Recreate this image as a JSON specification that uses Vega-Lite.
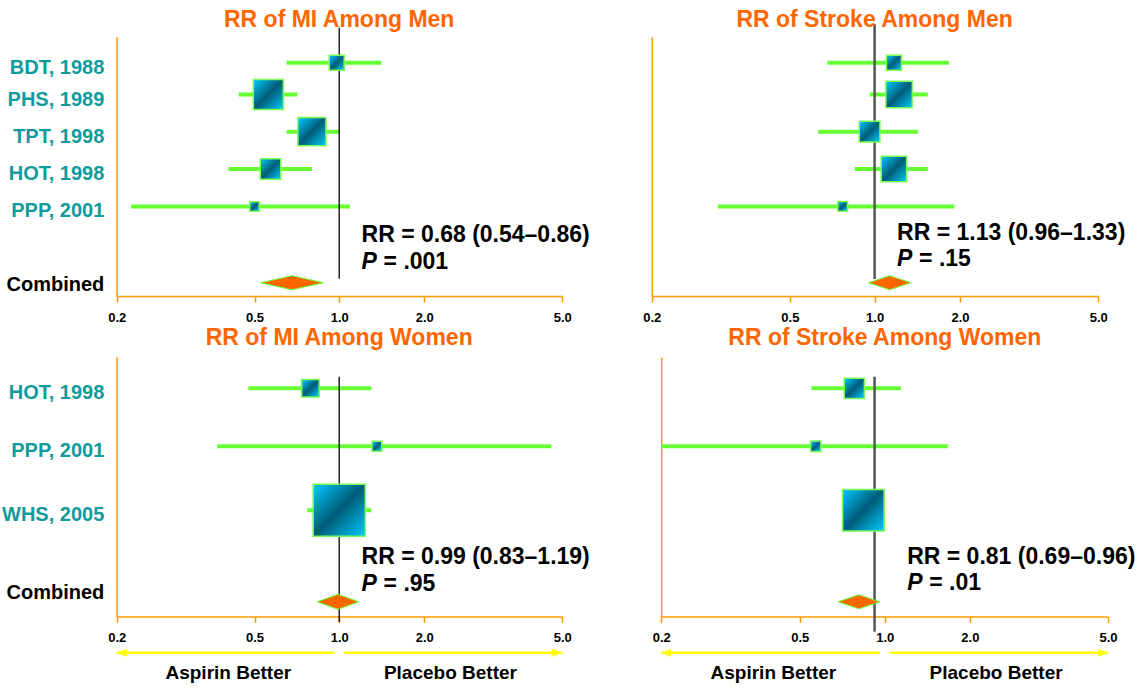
{
  "$schema": "https://vega.github.io/schema/vega-lite/v6.json",
  "width": 1138,
  "height": 688,
  "autosize": {"type": "none"},
  "padding": 0,
  "config": {"view": {"stroke": null}, "font": "Liberation Sans"},
  "datasets": {
    "studies": [
      {"panel": "TL", "study": "BDT, 1988", "rr": 0.98, "lo": 0.65, "hi": 1.41, "weight": 2.25, "row": 1},
      {"panel": "TL", "study": "PHS, 1989", "rr": 0.56, "lo": 0.45, "hi": 0.71, "weight": 9.0, "row": 1.87},
      {"panel": "TL", "study": "TPT, 1998", "rr": 0.80, "lo": 0.65, "hi": 1.00, "weight": 7.9, "row": 2.88},
      {"panel": "TL", "study": "HOT, 1998", "rr": 0.57, "lo": 0.42, "hi": 0.80, "weight": 4.2, "row": 3.9},
      {"panel": "TL", "study": "PPP, 2001", "rr": 0.50, "lo": 0.22, "hi": 1.09, "weight": 0.9, "row": 4.92},
      {"panel": "TR", "study": "BDT, 1988", "rr": 1.17, "lo": 0.68, "hi": 1.83, "weight": 2.25, "row": 1},
      {"panel": "TR", "study": "PHS, 1989", "rr": 1.22, "lo": 0.96, "hi": 1.54, "weight": 7.0, "row": 1.87},
      {"panel": "TR", "study": "TPT, 1998", "rr": 0.96, "lo": 0.63, "hi": 1.42, "weight": 4.3, "row": 2.88},
      {"panel": "TR", "study": "HOT, 1998", "rr": 1.17, "lo": 0.85, "hi": 1.54, "weight": 6.5, "row": 3.9},
      {"panel": "TR", "study": "PPP, 2001", "rr": 0.77, "lo": 0.31, "hi": 1.91, "weight": 0.95, "row": 4.92},
      {"panel": "BL", "study": "HOT, 1998", "rr": 0.79, "lo": 0.48, "hi": 1.30, "weight": 3.1, "row": 1},
      {"panel": "BL", "study": "PPP, 2001", "rr": 1.36, "lo": 0.39, "hi": 4.65, "weight": 0.96, "row": 1.95},
      {"panel": "BL", "study": "WHS, 2005", "rr": 1.00, "lo": 0.77, "hi": 1.30, "weight": 27.2, "row": 3},
      {"panel": "BR", "study": "HOT, 1998", "rr": 0.78, "lo": 0.55, "hi": 1.14, "weight": 4.1, "row": 1},
      {"panel": "BR", "study": "PPP, 2001", "rr": 0.57, "lo": 0.20, "hi": 1.67, "weight": 1.06, "row": 1.95},
      {"panel": "BR", "study": "WHS, 2005", "rr": 0.84, "lo": 0.72, "hi": 0.98, "weight": 17.3, "row": 3}
    ],
    "combined": [
      {"panel": "TL", "title": "RR of MI Among Men", "name": "Combined", "rr": 0.68, "lo": 0.54, "hi": 0.86, "row": 7, "summary": "RR = 0.68 (0.54–0.86)", "stat": "P", "pval": "= .001"},
      {"panel": "TR", "title": "RR of Stroke Among Men", "name": "Combined", "rr": 1.13, "lo": 0.96, "hi": 1.33, "row": 7, "summary": "RR = 1.13 (0.96–1.33)", "stat": "P", "pval": "= .15"},
      {"panel": "BL", "title": "RR of MI Among Women", "name": "Combined", "rr": 0.99, "lo": 0.83, "hi": 1.19, "row": 4.5, "summary": "RR = 0.99 (0.83–1.19)", "stat": "P", "pval": "= .95"},
      {"panel": "BR", "title": "RR of Stroke Among Women", "name": "Combined", "rr": 0.81, "lo": 0.69, "hi": 0.96, "row": 4.5, "summary": "RR = 0.81 (0.69–0.96)", "stat": "P", "pval": "= .01"}
    ],
    "refs": [
      {"panel": "TL", "ref": 1.0},
      {"panel": "TR", "ref": 1.0},
      {"panel": "BL", "ref": 1.0},
      {"panel": "BR", "ref": 0.92}
    ],
    "sides": [
      {"side": "Aspirin Better", "from": 0.2, "to": 0.96, "at": 0.42, "head": "left"},
      {"side": "Placebo Better", "from": 1.04, "to": 5.0, "at": 2.38, "head": "right"}
    ]
  },
  "resolve": {"scale": {"x": "independent", "y": "independent"}, "axis": {"x": "independent", "y": "independent"}},
  "layer": [
    {
      "layer": [
        {"data": {"name": "studies"}, "transform": [{"filter": "datum.panel == 'TL'"}],
         "mark": {"type": "rule", "color": "#66FF33", "strokeWidth": 4},
         "encoding": {"x": {"field": "lo", "type": "quantitative", "scale": {"type": "log", "domain": [0.2, 0.5, 1, 2, 5], "range": [116.7, 254.5, 339.2, 424.2, 562.3], "nice": false},
                            "axis": {"orient": "bottom", "offset": -392, "values": [0.2, 0.5, 1, 2, 5], "format": ".1f", "title": null, "grid": false, "domainColor": "#FF9900", "domainWidth": 1.5, "tickColor": "#FF9900", "tickWidth": 1.5, "tickSize": 6, "labelColor": "black", "labelFont": "Liberation Sans", "labelFontSize": 13, "labelFontWeight": "bold", "labelPadding": 9, "labelFlush": false, "labelOverlap": false, "labelBound": false}},
                      "x2": {"field": "hi"},
                      "y": {"field": "row", "type": "quantitative", "scale": {"domain": [0.291, 7.362], "range": [36.7, 296], "nice": false, "zero": false},
                            "axis": {"orient": "left", "offset": -116.7, "title": null, "grid": false, "ticks": false, "labels": false, "domainColor": "#FF9900", "domainWidth": 1.5}}}},
        {"data": {"name": "refs"}, "transform": [{"filter": "datum.panel == 'TL'"}],
         "mark": {"type": "rule", "color": "black", "strokeWidth": 1.3},
         "encoding": {"x": {"field": "ref", "type": "quantitative"},
                      "y": {"datum": 0.05, "type": "quantitative"}, "y2": {"datum": 6.89}}},
        {"data": {"name": "studies"}, "transform": [{"filter": "datum.panel == 'TL'"}],
         "mark": {"type": "point", "shape": "square", "filled": true, "opacity": 1, "fill": {"gradient": "linear", "x1": 0, "y1": 0, "x2": 1, "y2": 1, "stops": [{"offset": 0, "color": "#00CCFF"}, {"offset": 0.5, "color": "#005C78"}, {"offset": 1, "color": "#00CCFF"}]}, "stroke": "#77FF55", "strokeWidth": 1.5},
         "encoding": {"x": {"field": "rr", "type": "quantitative"},
                      "y": {"field": "row", "type": "quantitative"},
                      "size": {"field": "weight", "type": "quantitative", "scale": {"domain": [0, 30], "range": [0, 3000]}, "legend": null}}},
        {"data": {"name": "combined"}, "transform": [{"filter": "datum.panel == 'TL'"}],
         "mark": {"type": "point", "shape": "M-1,0L0,-0.22L1,0L0,0.22Z", "size": 3969, "filled": true, "opacity": 1, "fill": "#FF6600", "stroke": "#66FF33", "strokeWidth": 1},
         "encoding": {"x": {"field": "rr", "type": "quantitative"},
                      "y": {"field": "row", "type": "quantitative"}}},
        {"data": {"name": "studies"}, "transform": [{"filter": "datum.panel == 'TL'"}],
         "mark": {"type": "text", "align": "right", "baseline": "middle", "dx": -12.4, "dy": 5, "fontSize": 20, "fontWeight": "bold", "color": "#0F9B9B"},
         "encoding": {"x": {"datum": 0.2, "type": "quantitative"}, "y": {"field": "row", "type": "quantitative"}, "text": {"field": "study"}}},
        {"data": {"name": "combined"}, "transform": [{"filter": "datum.panel == 'TL'"}],
         "mark": {"type": "text", "align": "right", "baseline": "middle", "dx": -12.4, "dy": 2, "fontSize": 20, "fontWeight": "bold", "color": "black"},
         "encoding": {"x": {"datum": 0.2, "type": "quantitative"}, "y": {"field": "row", "type": "quantitative"}, "text": {"field": "name"}}},
        {"data": {"name": "combined"}, "transform": [{"filter": "datum.panel == 'TL'"}],
         "mark": {"type": "text", "align": "left", "baseline": "middle", "fontSize": 23, "fontWeight": "bold", "color": "black"},
         "encoding": {"x": {"datum": 1.2, "type": "quantitative"}, "y": {"datum": 5.70, "type": "quantitative"}, "text": {"field": "summary"}}},
        {"data": {"name": "combined"}, "transform": [{"filter": "datum.panel == 'TL'"}],
         "mark": {"type": "text", "align": "left", "baseline": "middle", "fontSize": 23, "fontWeight": "bold", "fontStyle": "italic", "color": "black"},
         "encoding": {"x": {"datum": 1.2, "type": "quantitative"}, "y": {"datum": 6.43, "type": "quantitative"}, "text": {"field": "stat"}}},
        {"data": {"name": "combined"}, "transform": [{"filter": "datum.panel == 'TL'"}],
         "mark": {"type": "text", "align": "left", "baseline": "middle", "dx": 22, "fontSize": 23, "fontWeight": "bold", "color": "black"},
         "encoding": {"x": {"datum": 1.2, "type": "quantitative"}, "y": {"datum": 6.43, "type": "quantitative"}, "text": {"field": "pval"}}},
        {"data": {"name": "combined"}, "transform": [{"filter": "datum.panel == 'TL'"}],
         "mark": {"type": "text", "align": "center", "baseline": "middle", "fontSize": 23, "fontWeight": "bold", "color": "#FF6600"},
         "encoding": {"x": {"datum": 1, "type": "quantitative"}, "y": {"datum": -0.164, "type": "quantitative"}, "text": {"field": "title"}}}
      ]
    },
    {
      "layer": [
        {"data": {"name": "studies"}, "transform": [{"filter": "datum.panel == 'TR'"}],
         "mark": {"type": "rule", "color": "#66FF33", "strokeWidth": 4},
         "encoding": {"x": {"field": "lo", "type": "quantitative", "scale": {"type": "log", "domain": [0.2, 0.5, 1, 2, 5], "range": [651.8, 789.9, 874.6, 960, 1098.2], "nice": false},
                            "axis": {"orient": "bottom", "offset": -392, "values": [0.2, 0.5, 1, 2, 5], "format": ".1f", "title": null, "grid": false, "domainColor": "#FF9900", "domainWidth": 1.5, "tickColor": "#FF9900", "tickWidth": 1.5, "tickSize": 6, "labelColor": "black", "labelFont": "Liberation Sans", "labelFontSize": 13, "labelFontWeight": "bold", "labelPadding": 9, "labelFlush": false, "labelOverlap": false, "labelBound": false}},
                      "x2": {"field": "hi"},
                      "y": {"field": "row", "type": "quantitative", "scale": {"domain": [0.291, 7.362], "range": [36.7, 296], "nice": false, "zero": false},
                            "axis": {"orient": "left", "offset": -651.8, "title": null, "grid": false, "ticks": false, "labels": false, "domainColor": "#FF9900", "domainWidth": 1.5}}}},
        {"data": {"name": "refs"}, "transform": [{"filter": "datum.panel == 'TR'"}],
         "mark": {"type": "rule", "color": "#555555", "strokeWidth": 2.5},
         "encoding": {"x": {"field": "ref", "type": "quantitative"},
                      "y": {"datum": -0.055, "type": "quantitative"}, "y2": {"datum": 6.9}}},
        {"data": {"name": "studies"}, "transform": [{"filter": "datum.panel == 'TR'"}],
         "mark": {"type": "point", "shape": "square", "filled": true, "opacity": 1, "fill": {"gradient": "linear", "x1": 0, "y1": 0, "x2": 1, "y2": 1, "stops": [{"offset": 0, "color": "#00CCFF"}, {"offset": 0.5, "color": "#005C78"}, {"offset": 1, "color": "#00CCFF"}]}, "stroke": "#77FF55", "strokeWidth": 1.5},
         "encoding": {"x": {"field": "rr", "type": "quantitative"},
                      "y": {"field": "row", "type": "quantitative"},
                      "size": {"field": "weight", "type": "quantitative", "scale": {"domain": [0, 30], "range": [0, 3000]}, "legend": null}}},
        {"data": {"name": "combined"}, "transform": [{"filter": "datum.panel == 'TR'"}],
         "mark": {"type": "point", "shape": "M-1,0L0,-0.33L1,0L0,0.33Z", "size": 1806, "filled": true, "opacity": 1, "fill": "#FF6600", "stroke": "#66FF33", "strokeWidth": 1},
         "encoding": {"x": {"field": "rr", "type": "quantitative"},
                      "y": {"field": "row", "type": "quantitative"}}},
        {"data": {"name": "combined"}, "transform": [{"filter": "datum.panel == 'TR'"}],
         "mark": {"type": "text", "align": "left", "baseline": "middle", "fontSize": 23, "fontWeight": "bold", "color": "black"},
         "encoding": {"x": {"datum": 1.2, "type": "quantitative"}, "y": {"datum": 5.64, "type": "quantitative"}, "text": {"field": "summary"}}},
        {"data": {"name": "combined"}, "transform": [{"filter": "datum.panel == 'TR'"}],
         "mark": {"type": "text", "align": "left", "baseline": "middle", "fontSize": 23, "fontWeight": "bold", "fontStyle": "italic", "color": "black"},
         "encoding": {"x": {"datum": 1.2, "type": "quantitative"}, "y": {"datum": 6.36, "type": "quantitative"}, "text": {"field": "stat"}}},
        {"data": {"name": "combined"}, "transform": [{"filter": "datum.panel == 'TR'"}],
         "mark": {"type": "text", "align": "left", "baseline": "middle", "dx": 22, "fontSize": 23, "fontWeight": "bold", "color": "black"},
         "encoding": {"x": {"datum": 1.2, "type": "quantitative"}, "y": {"datum": 6.36, "type": "quantitative"}, "text": {"field": "pval"}}},
        {"data": {"name": "combined"}, "transform": [{"filter": "datum.panel == 'TR'"}],
         "mark": {"type": "text", "align": "center", "baseline": "middle", "fontSize": 23, "fontWeight": "bold", "color": "#FF6600"},
         "encoding": {"x": {"datum": 1, "type": "quantitative"}, "y": {"datum": -0.164, "type": "quantitative"}, "text": {"field": "title"}}}
      ]
    },
    {
      "layer": [
        {"data": {"name": "studies"}, "transform": [{"filter": "datum.panel == 'BL'"}],
         "mark": {"type": "rule", "color": "#66FF33", "strokeWidth": 4},
         "encoding": {"x": {"field": "lo", "type": "quantitative", "scale": {"type": "log", "domain": [0.2, 0.5, 1, 2, 5], "range": [116.7, 254.5, 339.2, 424.2, 562.3], "nice": false},
                            "axis": {"orient": "bottom", "offset": -71.5, "values": [0.2, 0.5, 1, 2, 5], "format": ".1f", "title": null, "grid": false, "domainColor": "#FF9900", "domainWidth": 1.5, "tickColor": "#FF9900", "tickWidth": 1.5, "tickSize": 6, "labelColor": "black", "labelFont": "Liberation Sans", "labelFontSize": 13, "labelFontWeight": "bold", "labelPadding": 9, "labelFlush": false, "labelOverlap": false, "labelBound": false}},
                      "x2": {"field": "hi"},
                      "y": {"field": "row", "type": "quantitative", "scale": {"domain": [0.487, 4.741], "range": [357, 616.5], "nice": false, "zero": false},
                            "axis": {"orient": "left", "offset": -116.7, "title": null, "grid": false, "ticks": false, "labels": false, "domainColor": "#FF9900", "domainWidth": 1.5}}}},
        {"data": {"name": "refs"}, "transform": [{"filter": "datum.panel == 'BL'"}],
         "mark": {"type": "rule", "color": "black", "strokeWidth": 1.3},
         "encoding": {"x": {"field": "ref", "type": "quantitative"},
                      "y": {"datum": 0.81, "type": "quantitative"}, "y2": {"datum": 4.83}}},
        {"data": {"name": "studies"}, "transform": [{"filter": "datum.panel == 'BL'"}],
         "mark": {"type": "point", "shape": "square", "filled": true, "opacity": 1, "fill": {"gradient": "linear", "x1": 0, "y1": 0, "x2": 1, "y2": 1, "stops": [{"offset": 0, "color": "#00CCFF"}, {"offset": 0.5, "color": "#005C78"}, {"offset": 1, "color": "#00CCFF"}]}, "stroke": "#77FF55", "strokeWidth": 1.5},
         "encoding": {"x": {"field": "rr", "type": "quantitative"},
                      "y": {"field": "row", "type": "quantitative"},
                      "size": {"field": "weight", "type": "quantitative", "scale": {"domain": [0, 30], "range": [0, 3000]}, "legend": null}}},
        {"data": {"name": "combined"}, "transform": [{"filter": "datum.panel == 'BL'"}],
         "mark": {"type": "point", "shape": "M-1,0L0,-0.36L1,0L0,0.36Z", "size": 1722, "filled": true, "opacity": 1, "fill": "#FF6600", "stroke": "#66FF33", "strokeWidth": 1},
         "encoding": {"x": {"field": "rr", "type": "quantitative"},
                      "y": {"field": "row", "type": "quantitative"}}},
        {"data": {"name": "studies"}, "transform": [{"filter": "datum.panel == 'BL'"}],
         "mark": {"type": "text", "align": "right", "baseline": "middle", "dx": -12.4, "dy": 5, "fontSize": 20, "fontWeight": "bold", "color": "#0F9B9B"},
         "encoding": {"x": {"datum": 0.2, "type": "quantitative"}, "y": {"field": "row", "type": "quantitative"}, "text": {"field": "study"}}},
        {"data": {"name": "combined"}, "transform": [{"filter": "datum.panel == 'BL'"}],
         "mark": {"type": "text", "align": "right", "baseline": "middle", "dx": -12.4, "dy": -9, "fontSize": 20, "fontWeight": "bold", "color": "black"},
         "encoding": {"x": {"datum": 0.2, "type": "quantitative"}, "y": {"field": "row", "type": "quantitative"}, "text": {"field": "name"}}},
        {"data": {"name": "combined"}, "transform": [{"filter": "datum.panel == 'BL'"}],
         "mark": {"type": "text", "align": "left", "baseline": "middle", "fontSize": 23, "fontWeight": "bold", "color": "black"},
         "encoding": {"x": {"datum": 1.2, "type": "quantitative"}, "y": {"datum": 3.76, "type": "quantitative"}, "text": {"field": "summary"}}},
        {"data": {"name": "combined"}, "transform": [{"filter": "datum.panel == 'BL'"}],
         "mark": {"type": "text", "align": "left", "baseline": "middle", "fontSize": 23, "fontWeight": "bold", "fontStyle": "italic", "color": "black"},
         "encoding": {"x": {"datum": 1.2, "type": "quantitative"}, "y": {"datum": 4.21, "type": "quantitative"}, "text": {"field": "stat"}}},
        {"data": {"name": "combined"}, "transform": [{"filter": "datum.panel == 'BL'"}],
         "mark": {"type": "text", "align": "left", "baseline": "middle", "dx": 22, "fontSize": 23, "fontWeight": "bold", "color": "black"},
         "encoding": {"x": {"datum": 1.2, "type": "quantitative"}, "y": {"datum": 4.21, "type": "quantitative"}, "text": {"field": "pval"}}},
        {"data": {"name": "combined"}, "transform": [{"filter": "datum.panel == 'BL'"}],
         "mark": {"type": "text", "align": "center", "baseline": "middle", "fontSize": 23, "fontWeight": "bold", "color": "#FF6600"},
         "encoding": {"x": {"datum": 1, "type": "quantitative"}, "y": {"datum": 0.18, "type": "quantitative"}, "text": {"field": "title"}}},
        {"data": {"name": "sides"},
         "mark": {"type": "rule", "color": "#FFFF00", "strokeWidth": 2.5},
         "encoding": {"x": {"field": "from", "type": "quantitative"}, "x2": {"field": "to"}, "y": {"datum": 5.335, "type": "quantitative"}}},
        {"data": {"name": "sides"}, "transform": [{"filter": "datum.head == 'left'"}],
         "mark": {"type": "point", "shape": "M0,0L2,-0.8L2,0.8Z", "size": 100, "filled": true, "opacity": 1, "color": "#FFFF00"},
         "encoding": {"x": {"field": "from", "type": "quantitative"}, "y": {"datum": 5.335, "type": "quantitative"}}},
        {"data": {"name": "sides"}, "transform": [{"filter": "datum.head == 'right'"}],
         "mark": {"type": "point", "shape": "M0,0L-2,-0.8L-2,0.8Z", "size": 100, "filled": true, "opacity": 1, "color": "#FFFF00"},
         "encoding": {"x": {"field": "to", "type": "quantitative"}, "y": {"datum": 5.335, "type": "quantitative"}}},
        {"data": {"name": "sides"},
         "mark": {"type": "text", "align": "center", "baseline": "middle", "fontSize": 19, "fontWeight": "bold", "color": "black"},
         "encoding": {"x": {"field": "at", "type": "quantitative"}, "y": {"datum": 5.66, "type": "quantitative"}, "text": {"field": "side"}}}
      ]
    },
    {
      "layer": [
        {"data": {"name": "studies"}, "transform": [{"filter": "datum.panel == 'BR'"}],
         "mark": {"type": "rule", "color": "#66FF33", "strokeWidth": 4},
         "encoding": {"x": {"field": "lo", "type": "quantitative", "scale": {"type": "log", "domain": [0.2, 0.5, 1, 2, 5], "range": [661.2, 799.7, 884.8, 969.9, 1108], "nice": false},
                            "axis": {"orient": "bottom", "offset": -71.5, "values": [0.2, 0.5, 1, 2, 5], "format": ".1f", "title": null, "grid": false, "domainColor": "#FF9900", "domainWidth": 1.5, "tickColor": "#FF9900", "tickWidth": 1.5, "tickSize": 6, "labelColor": "black", "labelFont": "Liberation Sans", "labelFontSize": 13, "labelFontWeight": "bold", "labelPadding": 9, "labelFlush": false, "labelOverlap": false, "labelBound": false}},
                      "x2": {"field": "hi"},
                      "y": {"field": "row", "type": "quantitative", "scale": {"domain": [0.487, 4.741], "range": [357, 616.5], "nice": false, "zero": false},
                            "axis": {"orient": "left", "offset": -661.2, "title": null, "grid": false, "ticks": false, "labels": false, "domainColor": "#FF9900", "domainWidth": 1.5}}}},
        {"data": {"name": "refs"}, "transform": [{"filter": "datum.panel == 'BR'"}],
         "mark": {"type": "rule", "color": "#555555", "strokeWidth": 2.5},
         "encoding": {"x": {"field": "ref", "type": "quantitative"},
                      "y": {"datum": 0.81, "type": "quantitative"}, "y2": {"datum": 4.99}}},
        {"data": {"name": "studies"}, "transform": [{"filter": "datum.panel == 'BR'"}],
         "mark": {"type": "point", "shape": "square", "filled": true, "opacity": 1, "fill": {"gradient": "linear", "x1": 0, "y1": 0, "x2": 1, "y2": 1, "stops": [{"offset": 0, "color": "#00CCFF"}, {"offset": 0.5, "color": "#005C78"}, {"offset": 1, "color": "#00CCFF"}]}, "stroke": "#77FF55", "strokeWidth": 1.5},
         "encoding": {"x": {"field": "rr", "type": "quantitative"},
                      "y": {"field": "row", "type": "quantitative"},
                      "size": {"field": "weight", "type": "quantitative", "scale": {"domain": [0, 30], "range": [0, 3000]}, "legend": null}}},
        {"data": {"name": "combined"}, "transform": [{"filter": "datum.panel == 'BR'"}],
         "mark": {"type": "point", "shape": "M-1,0L0,-0.335L1,0L0,0.335Z", "size": 1747, "filled": true, "opacity": 1, "fill": "#FF6600", "stroke": "#66FF33", "strokeWidth": 1},
         "encoding": {"x": {"field": "rr", "type": "quantitative"},
                      "y": {"field": "row", "type": "quantitative"}}},
        {"data": {"name": "combined"}, "transform": [{"filter": "datum.panel == 'BR'"}],
         "mark": {"type": "text", "align": "left", "baseline": "middle", "fontSize": 23, "fontWeight": "bold", "color": "black"},
         "encoding": {"x": {"datum": 1.2, "type": "quantitative"}, "y": {"datum": 3.76, "type": "quantitative"}, "text": {"field": "summary"}}},
        {"data": {"name": "combined"}, "transform": [{"filter": "datum.panel == 'BR'"}],
         "mark": {"type": "text", "align": "left", "baseline": "middle", "fontSize": 23, "fontWeight": "bold", "fontStyle": "italic", "color": "black"},
         "encoding": {"x": {"datum": 1.2, "type": "quantitative"}, "y": {"datum": 4.20, "type": "quantitative"}, "text": {"field": "stat"}}},
        {"data": {"name": "combined"}, "transform": [{"filter": "datum.panel == 'BR'"}],
         "mark": {"type": "text", "align": "left", "baseline": "middle", "dx": 22, "fontSize": 23, "fontWeight": "bold", "color": "black"},
         "encoding": {"x": {"datum": 1.2, "type": "quantitative"}, "y": {"datum": 4.20, "type": "quantitative"}, "text": {"field": "pval"}}},
        {"data": {"name": "combined"}, "transform": [{"filter": "datum.panel == 'BR'"}],
         "mark": {"type": "text", "align": "center", "baseline": "middle", "fontSize": 23, "fontWeight": "bold", "color": "#FF6600"},
         "encoding": {"x": {"datum": 1, "type": "quantitative"}, "y": {"datum": 0.18, "type": "quantitative"}, "text": {"field": "title"}}},
        {"data": {"name": "sides"},
         "mark": {"type": "rule", "color": "#FFFF00", "strokeWidth": 2.5},
         "encoding": {"x": {"field": "from", "type": "quantitative"}, "x2": {"field": "to"}, "y": {"datum": 5.335, "type": "quantitative"}}},
        {"data": {"name": "sides"}, "transform": [{"filter": "datum.head == 'left'"}],
         "mark": {"type": "point", "shape": "M0,0L2,-0.8L2,0.8Z", "size": 100, "filled": true, "opacity": 1, "color": "#FFFF00"},
         "encoding": {"x": {"field": "from", "type": "quantitative"}, "y": {"datum": 5.335, "type": "quantitative"}}},
        {"data": {"name": "sides"}, "transform": [{"filter": "datum.head == 'right'"}],
         "mark": {"type": "point", "shape": "M0,0L-2,-0.8L-2,0.8Z", "size": 100, "filled": true, "opacity": 1, "color": "#FFFF00"},
         "encoding": {"x": {"field": "to", "type": "quantitative"}, "y": {"datum": 5.335, "type": "quantitative"}}},
        {"data": {"name": "sides"},
         "mark": {"type": "text", "align": "center", "baseline": "middle", "fontSize": 19, "fontWeight": "bold", "color": "black"},
         "encoding": {"x": {"field": "at", "type": "quantitative"}, "y": {"datum": 5.66, "type": "quantitative"}, "text": {"field": "side"}}}
      ]
    }
  ]
}
